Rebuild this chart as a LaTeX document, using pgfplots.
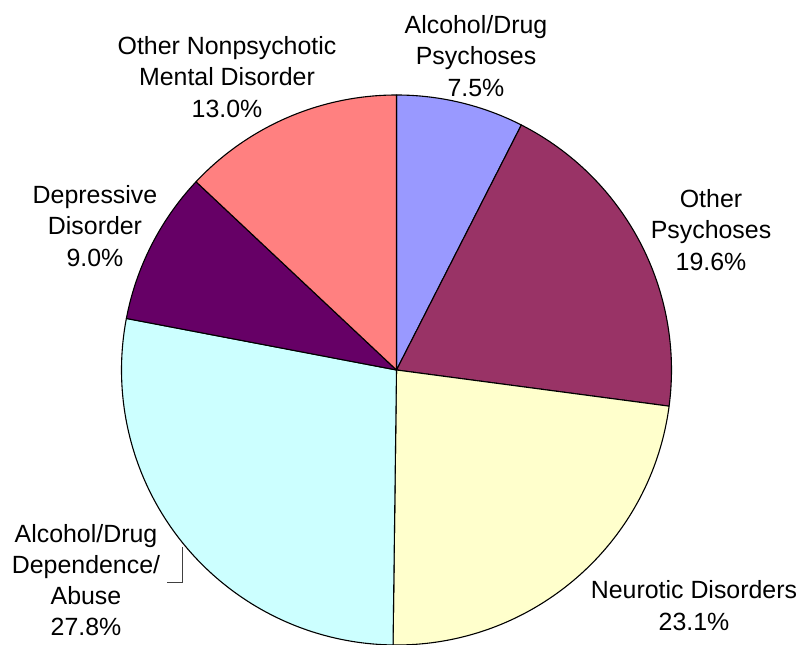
\documentclass[border=0pt]{standalone}
\usepackage{pgfplots}
\usepackage{pgfplotstable}
\usepackage{fontspec}
\setmainfont{Liberation Sans}
\pgfplotsset{compat=1.18}
\definecolor{cA}{HTML}{9999FF}
\definecolor{cB}{HTML}{993366}
\definecolor{cC}{HTML}{FFFFCC}
\definecolor{cD}{HTML}{CCFFFF}
\definecolor{cE}{HTML}{660066}
\definecolor{cF}{HTML}{FF8080}
\tikzset{lbl/.style={font=\fontsize{25}{32}\selectfont, align=center, inner sep=0pt}}

% share (percent) and fill colour, clockwise from 12 o'clock
\pgfplotstableread[col sep=comma]{
pct,color
7.5,cA
19.6,cB
23.1,cC
27.8,cD
9.0,cE
13.0,cF
}\piedata

\begin{document}
\begin{tikzpicture}
\useasboundingbox (0,0) rectangle (800bp,645bp);
\begin{axis}[
  scale only axis, width=800bp, height=645bp,
  xmin=0, xmax=800, ymin=0, ymax=645,
  hide axis, clip=false,
]
\def\cx{396.5}\def\cy{275}\def\rad{275bp}
\pgfmathsetmacro{\cum}{0}
\pgfplotsforeachungrouped \i in {0,...,5}{%
  \pgfplotstablegetelem{\i}{pct}\of\piedata
  \let\p\pgfplotsretval
  \pgfplotstablegetelem{\i}{color}\of\piedata
  \let\c\pgfplotsretval
  \pgfmathsetmacro{\sa}{90-3.6*\cum}%
  \pgfmathsetmacro{\ea}{90-3.6*(\cum+\p)}%
  \edef\tmp{\noexpand\filldraw[fill=\c, draw=black, line width=1.1bp, line join=round]
     (axis cs:\cx,\cy) -- ++(\sa:\rad) arc[start angle=\sa, end angle=\ea, radius=\rad] -- cycle;}%
  \tmp
  \pgfmathsetmacro{\cum}{\cum+\p}%
  \global\let\cum\cum
}

\node[lbl] at (axis cs:476,589) {Alcohol/Drug\\Psychoses\\7.5\%};
\node[lbl] at (axis cs:711,415) {Other\\Psychoses\\19.6\%};
\node[lbl] at (axis cs:694,39) {Neurotic Disorders\\23.1\%};
\node[lbl, font=\fontsize{25}{31}\selectfont] at (axis cs:86,65) {Alcohol/Drug\\Dependence/\\Abuse\\27.8\%};
\node[lbl] at (axis cs:95,419) {Depressive\\Disorder\\9.0\%};
\node[lbl] at (axis cs:227,568) {Other Nonpsychotic\\Mental Disorder\\13.0\%};
\draw[black!75, line width=0.8bp] (axis cs:182,98) -- (axis cs:182,63) -- (axis cs:167,63);
\end{axis}
\end{tikzpicture}
\end{document}
